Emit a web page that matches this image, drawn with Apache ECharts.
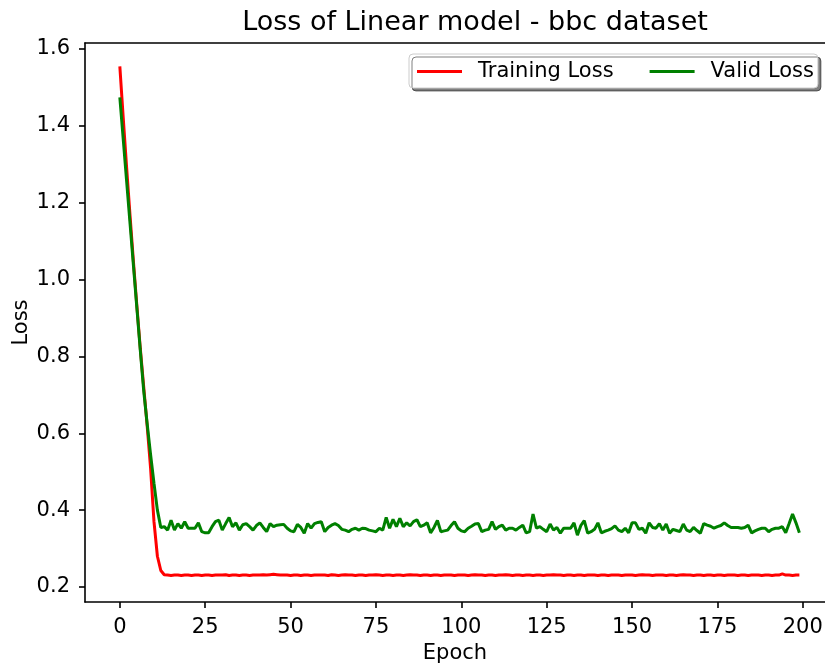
<!DOCTYPE html>
<html>
<head>
<meta charset="utf-8">
<script src="https://cdn.jsdelivr.net/npm/echarts@6/dist/echarts.min.js"></script>
<style>
  html, body { margin: 0; padding: 0; background: #fff; }
  #chart { width: 825px; height: 666px; }
</style>
</head>
<body>
<div id="chart"></div>
<script>
// loss per epoch
var trainingLoss = [
  1.555, 1.42, 1.29, 1.165, 1.045, 0.93, 0.82, 0.72, 0.62, 0.51,
  0.37, 0.28, 0.243, 0.232, 0.231, 0.230, 0.231, 0.231, 0.230, 0.231,
  0.231, 0.230, 0.231, 0.231, 0.230, 0.231, 0.231, 0.230, 0.231, 0.231,
  0.231, 0.232, 0.230, 0.231, 0.231, 0.230, 0.231, 0.231, 0.230, 0.231,
  0.231, 0.231, 0.232, 0.231, 0.232, 0.233, 0.232, 0.231, 0.231, 0.231,
  0.230, 0.231, 0.231, 0.230, 0.231, 0.231, 0.230, 0.231, 0.231, 0.231,
  0.231, 0.230, 0.232, 0.231, 0.230, 0.231, 0.232, 0.231, 0.231, 0.230,
  0.231, 0.231, 0.230, 0.231, 0.231, 0.232, 0.231, 0.230, 0.231, 0.231,
  0.230, 0.231, 0.231, 0.230, 0.231, 0.232, 0.231, 0.231, 0.230, 0.231,
  0.231, 0.230, 0.231, 0.231, 0.230, 0.231, 0.231, 0.231, 0.230, 0.231,
  0.231, 0.231, 0.230, 0.231, 0.232, 0.231, 0.231, 0.230, 0.231, 0.231,
  0.230, 0.231, 0.231, 0.232, 0.231, 0.230, 0.231, 0.231, 0.230, 0.231,
  0.231, 0.230, 0.231, 0.231, 0.230, 0.231, 0.231, 0.232, 0.231, 0.231,
  0.230, 0.231, 0.231, 0.230, 0.231, 0.231, 0.230, 0.231, 0.231, 0.231,
  0.230, 0.231, 0.231, 0.230, 0.231, 0.231, 0.231, 0.230, 0.231, 0.231,
  0.231, 0.230, 0.231, 0.232, 0.231, 0.231, 0.230, 0.231, 0.231, 0.231,
  0.230, 0.231, 0.231, 0.230, 0.231, 0.232, 0.231, 0.231, 0.230, 0.231,
  0.231, 0.230, 0.231, 0.231, 0.230, 0.231, 0.231, 0.230, 0.231, 0.231,
  0.231, 0.230, 0.231, 0.231, 0.230, 0.231, 0.231, 0.231, 0.230, 0.231,
  0.231, 0.230, 0.231, 0.231, 0.234, 0.231, 0.231, 0.230, 0.231, 0.231
];
var validLoss = [
  1.474, 1.365, 1.255, 1.145, 1.035, 0.925, 0.815, 0.71, 0.625, 0.545,
  0.47, 0.40, 0.355, 0.357, 0.348, 0.374, 0.348, 0.365, 0.353, 0.370,
  0.353, 0.353, 0.353, 0.367, 0.344, 0.341, 0.341, 0.357, 0.370, 0.374,
  0.348, 0.365, 0.381, 0.357, 0.367, 0.348, 0.362, 0.365, 0.357, 0.348,
  0.360, 0.367, 0.355, 0.344, 0.365, 0.357, 0.361, 0.362, 0.363, 0.353,
  0.346, 0.344, 0.363, 0.355, 0.340, 0.365, 0.353, 0.365, 0.368, 0.370,
  0.344, 0.355, 0.361, 0.365, 0.360, 0.350, 0.348, 0.344, 0.350, 0.353,
  0.348, 0.353, 0.352, 0.348, 0.346, 0.344, 0.353, 0.348, 0.381, 0.353,
  0.376, 0.357, 0.379, 0.357, 0.367, 0.359, 0.370, 0.375, 0.357, 0.361,
  0.367, 0.341, 0.355, 0.373, 0.344, 0.346, 0.348, 0.360, 0.370, 0.353,
  0.346, 0.344, 0.353, 0.358, 0.364, 0.365, 0.344, 0.348, 0.350, 0.370,
  0.350, 0.357, 0.361, 0.348, 0.353, 0.353, 0.348, 0.355, 0.361, 0.341,
  0.344, 0.390, 0.353, 0.357, 0.350, 0.344, 0.364, 0.348, 0.355, 0.340,
  0.353, 0.353, 0.353, 0.367, 0.335, 0.360, 0.373, 0.340, 0.344, 0.350,
  0.367, 0.341, 0.345, 0.348, 0.352, 0.359, 0.348, 0.344, 0.353, 0.341,
  0.367, 0.367, 0.350, 0.353, 0.340, 0.367, 0.355, 0.353, 0.365, 0.348,
  0.364, 0.340, 0.350, 0.347, 0.344, 0.364, 0.348, 0.344, 0.355, 0.347,
  0.340, 0.365, 0.361, 0.358, 0.353, 0.357, 0.360, 0.367, 0.360, 0.355,
  0.355, 0.355, 0.353, 0.355, 0.361, 0.341, 0.346, 0.350, 0.353, 0.353,
  0.344, 0.350, 0.353, 0.353, 0.357, 0.341, 0.365, 0.390, 0.367, 0.341
];
var xTicks = [0, 25, 50, 75, 100, 125, 150, 175, 200];
var yTicks = [0.2, 0.4, 0.6, 0.8, 1.0, 1.2, 1.4, 1.6];

var FONT = 'DejaVu Sans';

function pairs(values) {
  return values.map(function (v, i) { return [i, v]; });
}

var chart = echarts.init(document.getElementById('chart'), null, { renderer: 'canvas' });

var axisLine = { show: true, onZero: false, lineStyle: { color: '#000', width: 1.6 } };
var tickStyle = { color: '#000', width: 1.6 };

var option = {
  backgroundColor: '#fff',
  animation: false,
  title: {
    text: 'Loss of Linear model - bbc dataset',
    left: 470,
    top: 4,
    textAlign: 'center',
    textStyle: { fontFamily: FONT, fontSize: 27, fontWeight: 'normal', color: '#000' }
  },
  legend: {
    left: 409,
    top: 54,
    padding: [7, 4, 6, 8],
    icon: 'rect',
    itemWidth: 45,
    itemHeight: 3,
    itemGap: 36,
    backgroundColor: '#fff',
    borderColor: '#ccc',
    borderWidth: 1,
    borderRadius: 4,
    shadowColor: 'rgba(0,0,0,0.5)',
    shadowBlur: 0,
    shadowOffsetX: 3,
    shadowOffsetY: 3,
    textStyle: { fontFamily: FONT, fontSize: 21, color: '#000', padding: [0, 0, 0, 11] },
    data: ['Training Loss', 'Valid Loss']
  },
  grid: { left: 85, right: 0, top: 43, bottom: 64, containLabel: false, outerBoundsMode: 'none' },
  xAxis: [{
    type: 'value',
    min: -10.2,
    max: 206.5,
    name: 'Epoch',
    nameLocation: 'middle',
    nameGap: 41,
    nameMoveOverlap: false,
    nameTextStyle: { fontFamily: FONT, fontSize: 21, color: '#000' },
    axisLine: axisLine,
    axisTick: { show: true, inside: false, length: 6, lineStyle: tickStyle, customValues: xTicks },
    axisLabel: { fontFamily: FONT, fontSize: 21, color: '#000', margin: 15, customValues: xTicks,
      formatter: function (v) { return String(Math.round(v)); } },
    splitLine: { show: false }
  }, {
    type: 'value',
    position: 'top',
    min: -10.2,
    max: 206.5,
    axisLine: axisLine,
    axisTick: { show: false },
    axisLabel: { show: false },
    splitLine: { show: false }
  }],
  yAxis: {
    type: 'value',
    min: 0.161,
    max: 1.6156,
    name: 'Loss',
    nameLocation: 'middle',
    nameGap: 53,
    nameMoveOverlap: false,
    nameRotate: 90,
    nameTextStyle: { fontFamily: FONT, fontSize: 21, color: '#000' },
    axisLine: axisLine,
    axisTick: { show: true, inside: false, length: 6, lineStyle: tickStyle, customValues: yTicks },
    axisLabel: { fontFamily: FONT, fontSize: 21, color: '#000', margin: 15, customValues: yTicks,
      formatter: function (v) { return v.toFixed(1); } },
    splitLine: { show: false }
  },
  series: [{
    name: 'Training Loss',
    type: 'line',
    symbol: 'none',
    data: pairs(trainingLoss),
    lineStyle: { color: '#ff0000', width: 3 },
    itemStyle: { color: '#ff0000' }
  }, {
    name: 'Valid Loss',
    type: 'line',
    symbol: 'none',
    data: pairs(validLoss),
    lineStyle: { color: '#008000', width: 3 },
    itemStyle: { color: '#008000' }
  }]
};

chart.setOption(option);
</script>
</body>
</html>
